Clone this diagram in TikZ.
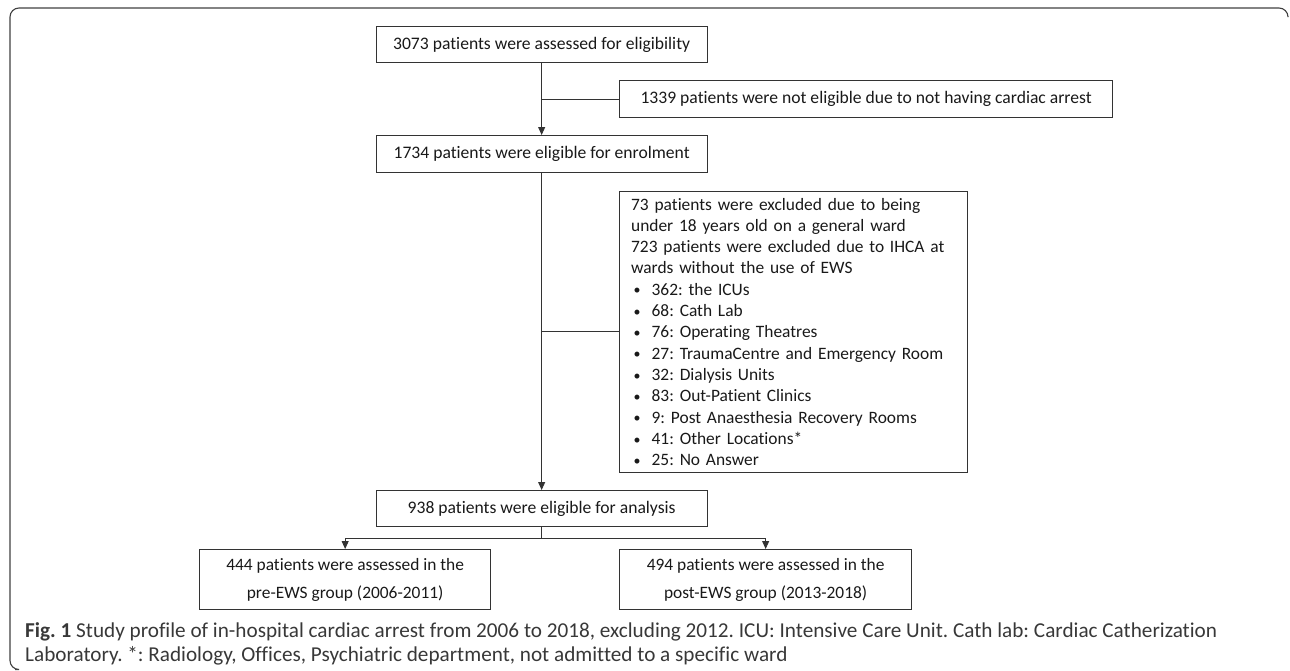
\documentclass[tikz,border=0pt]{standalone}
\usepackage{fontspec}
\setmainfont{Carlito}[Ligatures={NoCommon}]
\usetikzlibrary{arrows.meta,calc}
\newcommand{\bul}{\hspace*{2.5pt}\makebox[18pt][l]{\raisebox{0.3pt}{\fontsize{14}{14}\selectfont •}}}
\begin{document}
\frenchspacing
\begin{tikzpicture}[x=1pt,y=-1pt,
  box/.style={draw=black!80, line width=1.3pt, inner sep=0pt, anchor=north west,
    font=\fontsize{17.6}{21.3}\selectfont, text=black!90},
  conn/.style={draw=black!80, line width=0.9pt},
  arr/.style={conn, -{Triangle[width=7pt,length=8pt]}},
  captext/.style={anchor=base west, inner sep=0pt, font=\fontsize{21.2}{24}\selectfont, text=black!78}
]
\useasboundingbox (0,0) rectangle (1290,670);
% outer frame
\draw[line width=1.1pt, black!75, rounded corners=9pt] (15,669.5) -| (10,8) -- (1288,8) -- (1288,16);

\node[box, minimum width=331pt, minimum height=36.5pt] (a) at (375.5,25.5) {3073 patients were assessed for eligibility};
\node[box, minimum width=493pt, minimum height=37pt] (b) at (619,80) {1339 patients were not eligible due to not having cardiac arrest};
\node[box, minimum width=331pt, minimum height=37pt] (c) at (375.5,135) {1734 patients were eligible for enrolment};
\node[box, font=\fontsize{17.4}{21.3}\selectfont, minimum width=348pt, minimum height=281pt, align=left, text width=325pt, inner xsep=11.5pt] (d) at (619,190.7) {%
73 patients were excluded due to being\\
under 18 years old on a general ward\\
723 patients were excluded due to IHCA at\\
wards without the use of EWS\\
\bul 362: the ICUs\\
\bul 68: Cath Lab\\
\bul 76: Operating Theatres\\
\bul 27: TraumaCentre and Emergency Room\\
\bul 32: Dialysis Units\\
\bul 83: Out-Patient Clinics\\
\bul 9: Post Anaesthesia Recovery Rooms\\
\bul 41: Other Locations*\\
\bul 25: No Answer};
\node[box, minimum width=331pt, minimum height=36pt] (e) at (375.5,490) {938 patients were eligible for analysis};
\node[box, font=\fontsize{17.4}{28}\selectfont, minimum width=291pt, minimum height=60pt, align=center] (f) at (199,549) {444 patients were assessed in the\\pre-EWS group (2006-2011)};
\node[box, font=\fontsize{17.4}{28}\selectfont, minimum width=292pt, minimum height=60pt, align=center] (g) at (619,549) {494 patients were assessed in the\\post-EWS group (2013-2018)};

\coordinate (j1) at (a.south |- b.west);
\coordinate (j2) at (c.south |- d.west);
\coordinate (j3) at ($(e.south)+(0,11)$);

\draw[arr] (a.south) -- (c.north);
\draw[conn] (j1) -- (b.west);
\draw[arr] (c.south) -- (e.north);
\draw[conn] (j2) -- (d.west);
\draw[conn] (e.south) -- (j3);
\draw[arr] (j3) -| (f.north);
\draw[arr] (j3) -| (g.north);

\node[captext] (cap1) at (25,637) {\textbf{Fig. 1} Study profile of in-hospital cardiac arrest from 2006 to 2018, excluding 2012. ICU: Intensive Care Unit. Cath lab: Cardiac Catherization};
\node[captext] (cap2) at (25,661) {Laboratory. *: Radiology, Offices, Psychiatric department, not admitted to a specific ward};
\end{tikzpicture}
\end{document}
